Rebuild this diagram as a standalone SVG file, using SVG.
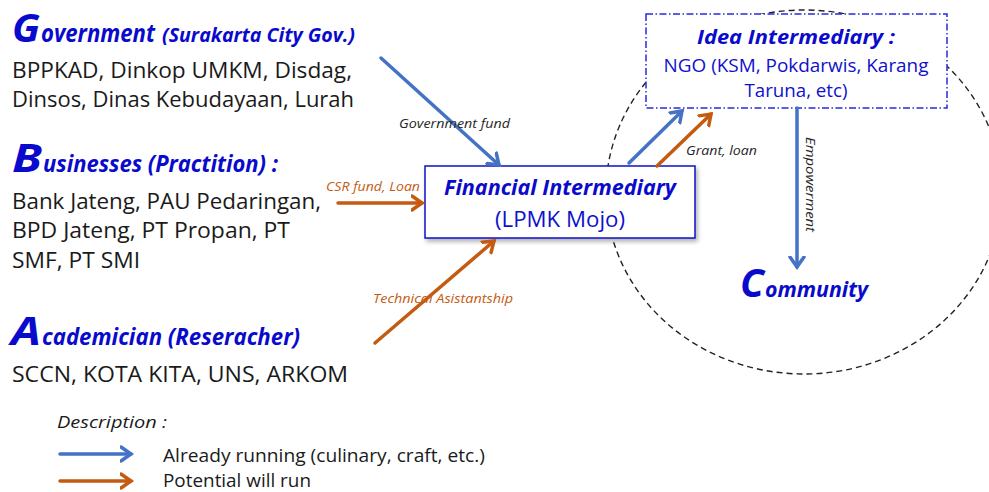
<svg xmlns="http://www.w3.org/2000/svg" width="989" height="492" viewBox="0 0 989 492">
<style>
.t{font-family:"Open Sans","Noto Sans",sans-serif;}
.bi{font-weight:bold;font-style:italic;fill:#0A0ACC;}
.body{fill:#1a1a1a;font-size:21px;}
.lbl{font-size:12px;font-style:italic;}
.blue{stroke:#4472C4;}
.orange{stroke:#C55A11;}
.arr{fill:none;stroke-width:3.5;stroke-linecap:round;}
</style>
<defs>
<marker id="hb" markerUnits="userSpaceOnUse" markerWidth="20" markerHeight="20" refX="11" refY="8" orient="auto" viewBox="0 0 20 16">
<path d="M1,1 L11,8 L1,15" fill="none" stroke="#4472C4" stroke-width="3.5" stroke-linecap="round" stroke-linejoin="miter"/>
</marker>
<marker id="ho" markerUnits="userSpaceOnUse" markerWidth="20" markerHeight="20" refX="11" refY="8" orient="auto" viewBox="0 0 20 16">
<path d="M1,1 L11,8 L1,15" fill="none" stroke="#C55A11" stroke-width="3.5" stroke-linecap="round" stroke-linejoin="miter"/>
</marker>
<filter id="sh" x="-10%" y="-10%" width="130%" height="140%">
<feDropShadow dx="2" dy="3" stdDeviation="2" flood-color="#000" flood-opacity="0.3"/>
</filter>
</defs>
<rect width="989" height="492" fill="#fff"/>

<g id="community-circle">
<ellipse cx="804" cy="192" rx="198" ry="182" fill="none" stroke="#222" stroke-width="1.4" stroke-dasharray="6 4"/>
</g>

<g id="government" class="t">
<text class="bi" x="12" y="42" font-size="40" textLength="28" lengthAdjust="spacingAndGlyphs">G</text>
<text class="bi" x="41" y="42" font-size="25" textLength="114" lengthAdjust="spacingAndGlyphs">overnment</text>
<text class="bi" x="162" y="42" font-size="20" textLength="193" lengthAdjust="spacingAndGlyphs">(Surakarta City Gov.)</text>
<text class="body" x="12" y="78" textLength="340" lengthAdjust="spacingAndGlyphs">BPPKAD, Dinkop UMKM, Disdag,</text>
<text class="body" x="12" y="107" textLength="342" lengthAdjust="spacingAndGlyphs">Dinsos, Dinas Kebudayaan, Lurah</text>
</g>

<g id="businesses" class="t">
<text class="bi" x="12" y="172" font-size="40" textLength="30" lengthAdjust="spacingAndGlyphs">B</text>
<text class="bi" x="43" y="172" font-size="24" textLength="235" lengthAdjust="spacingAndGlyphs">usinesses (Practition) :</text>
<text class="body" x="12" y="209" textLength="309" lengthAdjust="spacingAndGlyphs">Bank Jateng, PAU Pedaringan,</text>
<text class="body" x="12" y="238" textLength="278" lengthAdjust="spacingAndGlyphs">BPD Jateng, PT Propan, PT</text>
<text class="body" x="12" y="268" textLength="128" lengthAdjust="spacingAndGlyphs">SMF, PT SMI</text>
</g>

<g id="academician" class="t">
<text class="bi" x="11" y="345" font-size="40" textLength="30" lengthAdjust="spacingAndGlyphs">A</text>
<text class="bi" x="42" y="345" font-size="24" textLength="258" lengthAdjust="spacingAndGlyphs">cademician (Reseracher)</text>
<text class="body" x="12" y="382" textLength="336" lengthAdjust="spacingAndGlyphs">SCCN, KOTA KITA, UNS, ARKOM</text>
</g>

<g id="financial-intermediary" class="t">
<rect x="425" y="166" width="270" height="72" fill="#fff" stroke="#1010CC" stroke-width="1.5" filter="url(#sh)"/>
<text class="bi" x="560" y="195" font-size="21" text-anchor="middle" textLength="232" lengthAdjust="spacingAndGlyphs">Financial Intermediary</text>
<text x="560" y="227" font-size="21" fill="#1010CC" text-anchor="middle" textLength="130" lengthAdjust="spacingAndGlyphs">(LPMK Mojo)</text>
</g>

<g id="idea-intermediary" class="t">
<rect x="646" y="14" width="301" height="94" fill="#fff" stroke="#2828E0" stroke-width="1.5" stroke-dasharray="7 2.5 1.5 2.5"/>
<text class="bi" x="796" y="44" font-size="20" text-anchor="middle" textLength="198" lengthAdjust="spacingAndGlyphs">Idea Intermediary :</text>
<text x="796" y="72" font-size="18" fill="#1010CC" text-anchor="middle" textLength="265" lengthAdjust="spacingAndGlyphs">NGO (KSM, Pokdarwis, Karang</text>
<text x="796" y="97" font-size="18" fill="#1010CC" text-anchor="middle" textLength="103" lengthAdjust="spacingAndGlyphs">Taruna, etc)</text>
</g>

<g id="community" class="t">
<text class="bi" x="740" y="297" font-size="40" textLength="24" lengthAdjust="spacingAndGlyphs">C</text>
<text class="bi" x="765" y="297" font-size="22" textLength="103" lengthAdjust="spacingAndGlyphs">ommunity</text>
</g>

<g id="connectors">
<line class="arr blue" x1="381" y1="58" x2="499" y2="165" marker-end="url(#hb)"/>
<line class="arr orange" x1="338" y1="203" x2="422" y2="203" marker-end="url(#ho)"/>
<line class="arr orange" x1="375" y1="343" x2="494" y2="241" marker-end="url(#ho)"/>
<line class="arr blue" x1="629" y1="163" x2="682" y2="111" marker-end="url(#hb)"/>
<line class="arr orange" x1="657" y1="166" x2="711" y2="114" marker-end="url(#ho)"/>
<line class="arr blue" x1="797" y1="108" x2="797" y2="267" marker-end="url(#hb)"/>
</g>

<g id="connector-labels" class="t">
<text class="lbl" x="399" y="128" fill="#262626" textLength="111" lengthAdjust="spacingAndGlyphs">Government fund</text>
<text class="lbl" x="326" y="191" fill="#C55A11" textLength="94" lengthAdjust="spacingAndGlyphs">CSR fund, Loan</text>
<text class="lbl" x="373" y="303" fill="#C55A11" textLength="140" lengthAdjust="spacingAndGlyphs">Technical Asistantship</text>
<text class="lbl" x="686" y="155" fill="#262626" textLength="71" lengthAdjust="spacingAndGlyphs">Grant, loan</text>
<text class="lbl" transform="translate(806,137) rotate(90)" x="0" y="0" fill="#262626" textLength="95" lengthAdjust="spacingAndGlyphs">Empowerment</text>
</g>

<g id="legend" class="t">
<text x="57" y="428" font-size="17" font-style="italic" fill="#1a1a1a" textLength="110" lengthAdjust="spacingAndGlyphs">Description :</text>
<line class="arr blue" x1="60" y1="454" x2="131" y2="454" marker-end="url(#hb)"/>
<line class="arr orange" x1="60" y1="481" x2="131" y2="481" marker-end="url(#ho)"/>
<text x="163" y="462" font-size="18" fill="#1a1a1a" textLength="322" lengthAdjust="spacingAndGlyphs">Already running (culinary, craft, etc.)</text>
<text x="163" y="487" font-size="18" fill="#1a1a1a" textLength="148" lengthAdjust="spacingAndGlyphs">Potential will run</text>
</g>
</svg>
